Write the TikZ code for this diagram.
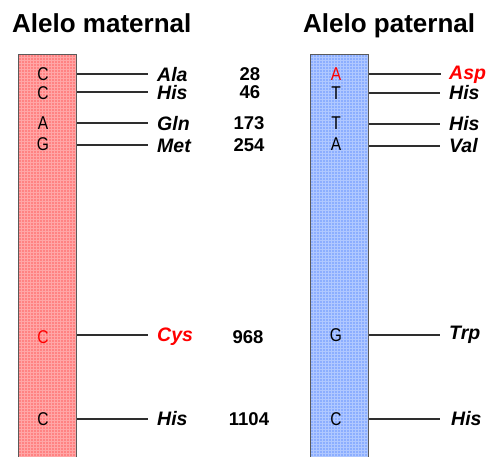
\documentclass[tikz,border=0pt]{standalone}
\usepackage{fontspec}
\setmainfont{Liberation Sans}
\definecolor{matfill}{HTML}{FF8282}
\definecolor{matgrid}{HTML}{FFA6A6}
\definecolor{patfill}{HTML}{8CAEFF}
\definecolor{patgrid}{HTML}{B0C8FF}
\definecolor{barframe}{HTML}{5A5A5A}
\definecolor{linkgray}{HTML}{2E2E2E}
\begin{document}
\begin{tikzpicture}[x=1pt,y=-1pt,
  title/.style={font=\fontsize{26}{30}\selectfont\bfseries, anchor=base west, inner sep=0pt},
  base/.style={font=\fontsize{18.5}{20}\selectfont, xscale=0.84, inner sep=0pt, text depth=0pt},
  amino/.style={font=\fontsize{19.5}{22}\selectfont\bfseries\itshape, anchor=west, inner sep=0pt},
  posn/.style={font=\fontsize{18.5}{22}\selectfont\bfseries, inner sep=0pt},
  link/.style={draw=linkgray, line width=1.4pt},
  hot/.style={text=red}]
\useasboundingbox (0,0) rectangle (488,456);

% titles
\node[title] (tm) at (12,32) {Alelo maternal};
\node[title] (tp) at (303,32) {Alelo paternal};

% maternal strand with checked fill
\begin{scope}
  \clip (18,54) rectangle (76,470);
  \fill[matfill] (18,54) rectangle (76,470);
  \foreach \g in {0,3,...,420} {
    \draw[matgrid, line width=0.7pt] (18,54+\g) -- (76,54+\g);
  }
  \foreach \g in {0,3,...,60} {
    \draw[matgrid, line width=0.7pt] (18+\g,54) -- (18+\g,470);
  }
\end{scope}
\node[draw=barframe, line width=1.2pt, minimum width=58pt, minimum height=416pt,
      inner sep=0pt, anchor=north west] (mbar) at (18,54) {};

% paternal strand with checked fill
\begin{scope}
  \clip (310,54) rectangle (368,470);
  \fill[patfill] (310,54) rectangle (368,470);
  \foreach \g in {0,3,...,420} {
    \draw[patgrid, line width=0.7pt] (310,54+\g) -- (368,54+\g);
  }
  \foreach \g in {0,3,...,60} {
    \draw[patgrid, line width=0.7pt] (310+\g,54) -- (310+\g,470);
  }
\end{scope}
\node[draw=barframe, line width=1.2pt, minimum width=58pt, minimum height=416pt,
      inner sep=0pt, anchor=north west] (pbar) at (310,54) {};

% maternal bases
\node[base] (mb1) at (43,74) {C};
\node[base] (mb2) at (43,93) {C};
\node[base] (mb3) at (43,123) {A};
\node[base] (mb4) at (43,144) {G};
\node[base, hot] (mb5) at (43,337) {C};
\node[base] (mb6) at (43,419) {C};

% paternal bases
\node[base, hot] (pb1) at (336,74) {A};
\node[base] (pb2) at (336,93) {T};
\node[base] (pb3) at (336,123) {T};
\node[base] (pb4) at (336,144) {A};
\node[base] (pb5) at (336,335) {G};
\node[base] (pb6) at (336,419) {C};

% maternal amino acids
\node[amino] (ma1) at (157,75) {Ala};
\node[amino] (ma2) at (157,93) {His};
\node[amino] (ma3) at (157,124) {Gln};
\node[amino] (ma4) at (157,146) {Met};
\node[amino, hot] (ma5) at (157,337) {Cys};
\node[amino] (ma6) at (157,419) {His};

% paternal amino acids
\node[amino, hot] (pa1) at (449,75) {Asp};
\node[amino] (pa2) at (449,93) {His};
\node[amino] (pa3) at (449,124) {His};
\node[amino] (pa4) at (449,146) {Val};
\node[amino] (pa5) at (449,335) {Trp};
\node[amino] (pa6) at (451,419) {His};

% codon positions
\node[posn] (n1) at (250,74) {28};
\node[posn] (n2) at (250,92) {46};
\node[posn] (n3) at (249,123) {173};
\node[posn] (n4) at (249,145) {254};
\node[posn] (n5) at (248,337) {968};
\node[posn] (n6) at (249,419) {1104};

% connector ends
\coordinate (me1) at (148,74);
\coordinate (me2) at (148,92);
\coordinate (me3) at (148,123);
\coordinate (me4) at (148,145);
\coordinate (me5) at (148,335);
\coordinate (me6) at (148,419);
\coordinate (pe1) at (441,74);
\coordinate (pe2) at (440,93);
\coordinate (pe3) at (440,124);
\coordinate (pe4) at (440,146);
\coordinate (pe5) at (440,335);
\coordinate (pe6) at (440,419);

% connectors
\foreach \i in {1,...,6} {
  \draw[link] (mbar.east |- me\i) -- (me\i);
  \draw[link] (pbar.east |- pe\i) -- (pe\i);
}
\end{tikzpicture}
\end{document}
